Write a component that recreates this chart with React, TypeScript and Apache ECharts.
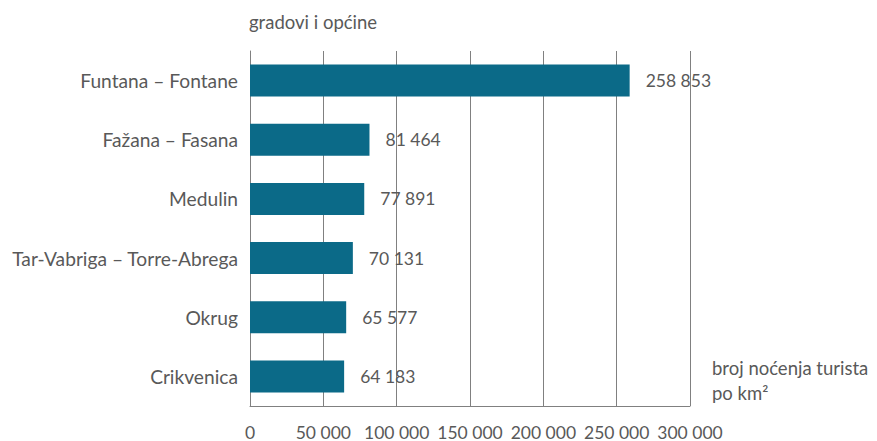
import React, { useEffect, useRef } from "react";
import * as echarts from "echarts";

const categories = [
  "Funtana – Fontane",
  "Fažana – Fasana",
  "Medulin",
  "Tar-Vabriga – Torre-Abrega",
  "Okrug",
  "Crikvenica",
];
const values = [258853, 81464, 77891, 70131, 65577, 64183];
const axisTitle = "gradovi i općine";
const valueTitle = ["broj noćenja turista", "po km²"];

const fmt = (v: number) => String(v).replace(/\B(?=(\d{3})+(?!\d))/g, " ");

export default function App() {
  const ref = useRef<HTMLDivElement>(null);
  useEffect(() => {
    if (!ref.current) return;
    document.body.style.margin = "0";
    const chart = echarts.init(ref.current, null, { renderer: "svg" });
    const font = "Lato, 'Open Sans', sans-serif";
    const textColor = "#595959";
    chart.setOption({
      animation: false,
      grid: { left: 250, right: 187, top: 51, bottom: 33, containLabel: false },
      xAxis: {
        type: "value",
        min: 0,
        max: 300000,
        interval: 50000,
        axisLine: { show: true, lineStyle: { color: "#808080", width: 1 } },
        axisTick: { show: false },
        splitLine: { show: true, lineStyle: { color: "#808080", width: 1 } },
        axisLabel: {
          color: textColor,
          fontFamily: font,
          fontSize: 17.5,
          margin: 17,
          formatter: (v: number) => fmt(v),
        },
      },
      yAxis: {
        type: "category",
        data: categories,
        inverse: true,
        axisLine: { show: true, lineStyle: { color: "#808080", width: 1 } },
        axisTick: { show: false },
        axisLabel: { color: textColor, fontFamily: font, fontSize: 19.2, margin: 12 },
      },
      series: [
        {
          type: "bar",
          data: values,
          barCategoryGap: "46%",
          itemStyle: { color: "#0b6a88" },
          label: {
            show: true,
            position: "right",
            distance: 16,
            color: textColor,
            fontFamily: font,
            fontSize: 17.5,
            formatter: (p: any) => fmt(p.value),
          },
        },
      ],
      graphic: [
        {
          type: "text",
          left: 249,
          top: 12,
          style: { text: axisTitle, fill: textColor, font: `18.5px ${font}` },
        },
        {
          type: "text",
          left: 712,
          top: 355,
          style: {
            text: valueTitle.join("\n"),
            fill: textColor,
            font: `18.5px ${font}`,
            lineHeight: 25,
          },
        },
      ],
    });
    return () => chart.dispose();
  }, []);
  return <div ref={ref} style={{ width: 877, height: 441 }} />;
}
